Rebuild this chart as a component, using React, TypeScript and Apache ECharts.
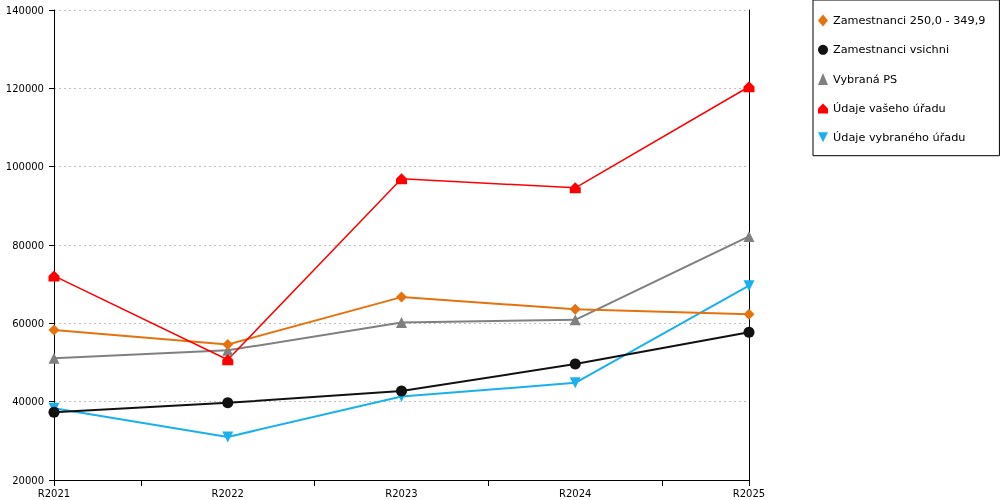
import React, { useEffect, useRef } from "react";
import * as echarts from "echarts";

const categories = ["R2021", "R2022", "R2023", "R2024", "R2025"];
const tickSlots = ["a", "b", "c", "d"];
const yTicks = { min: 20000, max: 140000, interval: 20000 };

const zam250 = [58300, 54600, 66700, 63600, 62300];
const zamVsichni = [37300, 39700, 42700, 49600, 57700];
const vybranaPS = [51100, 53100, 60200, 60900, 82200];
const vasehoUradu = [72100, 50700, 96900, 94600, 120400];
const vybranehoUradu = [38300, 31000, 41300, 44800, 69600];

const seriesNames = [
  "Zamestnanci 250,0 - 349,9",
  "Zamestnanci vsichni",
  "Vybraná PS",
  "Údaje vašeho úřadu",
  "Údaje vybraného úřadu",
];

const FONT = "DejaVu Sans";

export default function App() {
  const ref = useRef<HTMLDivElement>(null);
  useEffect(() => {
    if (!ref.current) return;
    const chart = echarts.init(ref.current, null, { renderer: "svg" });
    const house = "path://M0,5 L5,0 L10,5 L10,10 L0,10 Z";
    const invTri = "path://M0,0 L10,0 L5,10 Z";
    const mk = (
      name: string,
      data: number[],
      color: string,
      symbol: string,
      symbolSize: number,
      width: number
    ) => ({
      name,
      type: "line",
      data,
      symbol,
      symbolSize,
      showSymbol: true,
      itemStyle: { color },
      lineStyle: { color, width },
      emphasis: { disabled: true },
    });
    chart.setOption({
      animation: false,
      textStyle: { fontFamily: FONT },
      grid: { left: 54, right: 251, top: 10, bottom: 20, containLabel: false },
      legend: {
        orient: "vertical",
        left: 813,
        top: 0,
        padding: [14.5, 14, 13, 5],
        itemGap: 17.8,
        itemWidth: 10,
        itemHeight: 12,
        borderColor: "#000",
        borderWidth: 1,
        backgroundColor: "#fff",
        textStyle: { fontFamily: FONT, fontSize: 11.25, color: "#000" },
        data: [
          { name: seriesNames[0], icon: "diamond" },
          { name: seriesNames[1], icon: "circle" },
          { name: seriesNames[2], icon: "triangle" },
          { name: seriesNames[3], icon: house },
          { name: seriesNames[4], icon: invTri },
        ],
      },
      xAxis: [
        {
          type: "category",
          data: categories,
          boundaryGap: false,
          axisLine: { show: true, lineStyle: { color: "#000", width: 1 } },
          axisTick: {
            show: true,
            length: 6,
            interval: (i: number) => i === 0 || i === categories.length - 1,
            lineStyle: { color: "#000" },
          },
          axisLabel: { color: "#000", fontSize: 10, fontFamily: FONT, margin: 8 },
          splitLine: { show: false },
        },
        {
          type: "category",
          data: tickSlots,
          position: "bottom",
          boundaryGap: true,
          axisLine: { show: false },
          axisTick: {
            show: true,
            alignWithLabel: true,
            length: 6,
            lineStyle: { color: "#000" },
          },
          axisLabel: { show: false },
          splitLine: { show: false },
        },
      ],
      yAxis: [
        {
          type: "value",
          min: yTicks.min,
          max: yTicks.max,
          interval: yTicks.interval,
          axisLine: { show: true, lineStyle: { color: "#000", width: 1 } },
          axisTick: { show: true, length: 5, lineStyle: { color: "#000" } },
          axisLabel: {
            color: "#000",
            fontSize: 10,
            fontFamily: FONT,
            margin: 10,
            formatter: (v: number) => String(v),
          },
          splitLine: {
            show: true,
            lineStyle: { color: "#c0c0c0", type: [2, 3], width: 1 },
          },
        },
        {
          type: "value",
          position: "right",
          min: yTicks.min,
          max: yTicks.max,
          interval: yTicks.interval,
          axisLine: { show: true, lineStyle: { color: "#000", width: 1 } },
          axisTick: { show: false },
          axisLabel: { show: false },
          splitLine: { show: false },
        },
      ],
      series: [
        mk(seriesNames[2], vybranaPS, "#808080", "triangle", 11, 2),
        mk(seriesNames[4], vybranehoUradu, "#1AB0EE", invTri, 11, 2),
        mk(seriesNames[1], zamVsichni, "#111111", "circle", 11, 2),
        mk(seriesNames[0], zam250, "#E4730F", "diamond", 11, 2),
        mk(seriesNames[3], vasehoUradu, "#FF0000", house, 11, 1.5),
      ],
    });
    return () => chart.dispose();
  }, []);
  return (
    <div
      ref={ref}
      style={{ position: "fixed", left: 0, top: 0, width: 1000, height: 500 }}
    />
  );
}
